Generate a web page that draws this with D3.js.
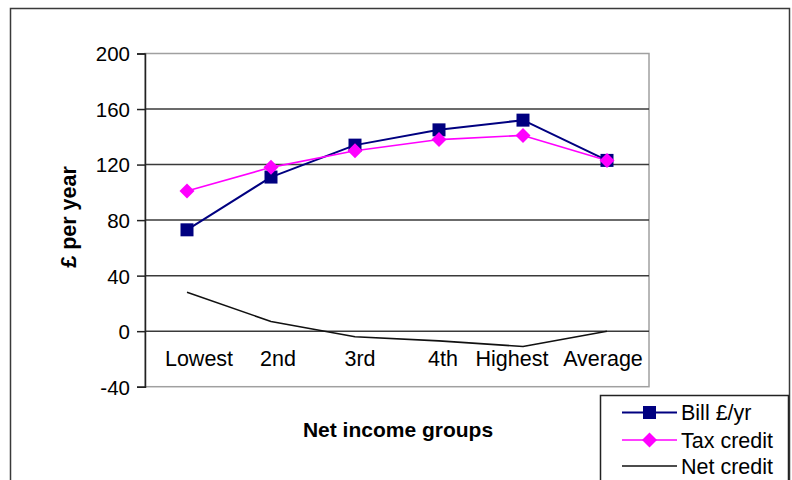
<!DOCTYPE html>
<html>
<head>
<meta charset="utf-8">
<script src="https://cdn.jsdelivr.net/npm/d3@7"></script>
<style>
  html, body { margin: 0; padding: 0; background: #fff; }
  svg { display: block; font-family: "Liberation Sans", Arial, sans-serif; }
</style>
</head>
<body>
<svg id="chart" width="792" height="480"></svg>
<script>
// Income groups along the x axis
const groups = ["Lowest", "2nd", "3rd", "4th", "Highest", "Average"];
// Annual bill, £ per year
const bill = [73, 111, 134, 145, 152, 123];
// Tax credit, £ per year
const taxCredit = [101, 118, 130, 138, 141, 123];
// Net credit (tax credit less bill), £ per year
const netCredit = [28, 7, -4, -7, -11, 0];
// Value axis ticks
const yTicks = [-40, 0, 40, 80, 120, 160, 200];

const svg = d3.select("#chart");

const plot = { left: 145, right: 649, top: 53.5, bottom: 386.7 };

// Horizontal nudges so the wide category labels do not collide
const labelNudge = { "Lowest": 12, "2nd": 7, "3rd": 5, "4th": 4, "Highest": -11, "Average": -4 };

const x = d3.scalePoint()
  .domain(groups)
  .range([plot.left, plot.right])
  .padding(0.5);

const y = d3.scaleLinear()
  .domain([-40, 200])
  .range([plot.bottom, plot.top]);

// Outer chart frame
svg.append("path")
  .attr("d", "M10.5,490 V8.5 H789.5 V490")
  .attr("fill", "none")
  .attr("stroke", "#3a3a3a")
  .attr("stroke-width", 1.5);

// Plot area border (light grey top, right and bottom)
svg.append("rect")
  .attr("x", plot.left)
  .attr("y", y(200))
  .attr("width", plot.right - plot.left)
  .attr("height", y(-40) - y(200))
  .attr("fill", "none")
  .attr("stroke", "#a0a0a0")
  .attr("stroke-width", 1.5);

// Horizontal gridlines
svg.append("g")
  .selectAll("line")
  .data(yTicks.filter(t => t > -40 && t < 200))
  .join("line")
  .attr("x1", plot.left)
  .attr("x2", plot.right)
  .attr("y1", d => y(d))
  .attr("y2", d => y(d))
  .attr("stroke", "#3a3a3a")
  .attr("stroke-width", 1.5);

// Value axis with outward ticks; plain hyphen for negatives
const yAxis = d3.axisLeft(y)
  .tickValues(yTicks)
  .tickSize(8)
  .tickPadding(7)
  .tickFormat(d => String(d));

const gy = svg.append("g")
  .attr("transform", `translate(${plot.left},0)`)
  .call(yAxis);
gy.select(".domain").attr("stroke", "#222").attr("stroke-width", 1.5);
gy.selectAll(".tick line").attr("stroke", "#222").attr("stroke-width", 1.5);
gy.selectAll(".tick text")
  .attr("fill", "#000")
  .style("font-size", "20.5px")
  .attr("dy", "0.36em");

// Category labels sit inside the plot, below the zero line
svg.append("g")
  .selectAll("text")
  .data(groups)
  .join("text")
  .attr("x", d => x(d) + labelNudge[d])
  .attr("y", 366)
  .attr("text-anchor", "middle")
  .attr("fill", "#000")
  .style("font-size", "21.5px")
  .text(d => d);

// Axis titles
svg.append("text")
  .attr("transform", "translate(76,217) rotate(-90)")
  .attr("text-anchor", "middle")
  .attr("fill", "#000")
  .style("font-size", "21.5px")
  .style("font-weight", "bold")
  .text("£ per year");

svg.append("text")
  .attr("x", 398)
  .attr("y", 437)
  .attr("text-anchor", "middle")
  .attr("fill", "#000")
  .style("font-size", "21px")
  .style("font-weight", "bold")
  .text("Net income groups");

// Series
const series = [
  { name: "Bill £/yr", values: bill, color: "#000080", width: 2, marker: "square" },
  { name: "Tax credit", values: taxCredit, color: "#ff00ff", width: 1.6, marker: "diamond" },
  { name: "Net credit", values: netCredit, color: "#111", width: 1.6, marker: null }
];

const line = d3.line()
  .x((d, i) => x(groups[i]))
  .y(d => y(d));

const markerPath = {
  square: d3.symbol().type(d3.symbolSquare).size(169)(),
  diamond: "M0,-7.5 L7.5,0 L0,7.5 L-7.5,0 Z"
};

// Draw net credit first, then bill, then tax credit on top
[series[2], series[0], series[1]].forEach(s => {
  svg.append("path")
    .datum(s.values)
    .attr("d", line)
    .attr("fill", "none")
    .attr("stroke", s.color)
    .attr("stroke-width", s.width)
    .attr("stroke-linejoin", "round");
});
[series[0], series[1]].forEach(s => {
  svg.append("g")
    .selectAll("path")
    .data(s.values)
    .join("path")
    .attr("transform", (d, i) => `translate(${x(groups[i])},${y(d)})`)
    .attr("d", markerPath[s.marker])
    .attr("fill", s.color);
});

// Legend
const legend = svg.append("g");
legend.append("path")
  .attr("d", "M600.5,490 V395.5 H788.5 V490")
  .attr("fill", "#fff")
  .attr("stroke", "#222")
  .attr("stroke-width", 1.5);

const rowY = [412.5, 440, 466];
series.forEach((s, i) => {
  const g = legend.append("g").attr("transform", `translate(0,${rowY[i]})`);
  g.append("line")
    .attr("x1", 622).attr("x2", 677)
    .attr("stroke", s.color)
    .attr("stroke-width", s.width);
  if (s.marker) {
    g.append("path")
      .attr("transform", "translate(649.5,0)")
      .attr("d", markerPath[s.marker])
      .attr("fill", s.color);
  }
  g.append("text")
    .attr("x", 681)
    .attr("dy", "0.36em")
    .attr("fill", "#000")
    .style("font-size", "21.5px")
    .text(s.name);
});
</script>
</body>
</html>
